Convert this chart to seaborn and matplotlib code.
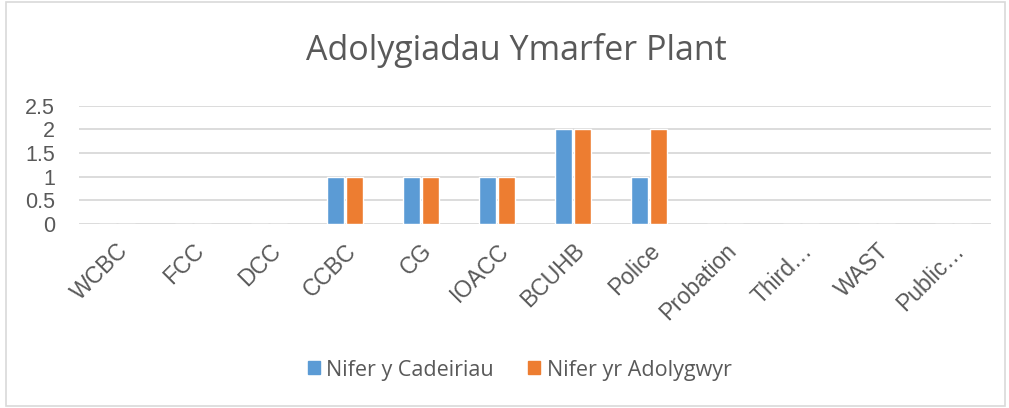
import numpy as np
import pandas as pd
import matplotlib.pyplot as plt
import seaborn as sns
from matplotlib.patches import Rectangle

categories = ["WCBC", "FCC", "DCC", "CCBC", "CG", "IOACC", "BCUHB", "Police",
              "Probation", "Third…", "WAST", "Public…"]
cadeiriau = [0, 0, 0, 1, 1, 1, 2, 1, 0, 0, 0, 0]
adolygwyr = [0, 0, 0, 1, 1, 1, 2, 2, 0, 0, 0, 0]
series_names = ["Nifer y Cadeiriau", "Nifer yr Adolygwyr"]

df = pd.DataFrame({
    "cat": categories * 2,
    "val": cadeiriau + adolygwyr,
    "series": [series_names[0]] * len(categories) + [series_names[1]] * len(categories),
})

sns.set_theme(style="white")
plt.rcParams['font.family'] = ['Liberation Sans', 'DejaVu Sans']
txt = "#595959"

fig = plt.figure(figsize=(10.09, 4.08), dpi=100)
ax = fig.add_axes([0.078, 0.451, 0.904, 0.29])

sns.barplot(data=df, x="cat", y="val", hue="series", order=categories,
            palette=["#5B9BD5", "#ED7D31"], width=0.5, gap=0.12,
            saturation=1, ax=ax, legend=False)

ax.set_ylim(0, 2.5)
ax.set_yticks([0, 0.5, 1, 1.5, 2, 2.5])
ax.set_yticklabels(["0", "0.5", "1", "1.5", "2", "2.5"])
ax.set_xlim(-0.5, len(categories) - 0.5)
ax.yaxis.grid(True, color="#D9D9D9", lw=1.3)
ax.set_axisbelow(True)
for s in ax.spines.values():
    s.set_visible(False)
ax.tick_params(axis="y", labelsize=15.5, colors=txt, length=0, pad=17)
ax.tick_params(axis="x", labelsize=16.5, colors=txt, length=0, pad=11)
plt.setp(ax.get_xticklabels(), rotation=45, ha="right", rotation_mode="anchor")
ax.set_xlabel("")
ax.set_ylabel("")

fig.text(0.512, 0.877, "Adolygiadau Ymarfer Plant", ha="center", va="center",
         fontsize=24.5, color=txt, family=["Open Sans", "DejaVu Sans"])

handles = [Rectangle((0, 0), 1, 1, color=c) for c in ["#5B9BD5", "#ED7D31"]]
fig.legend(handles, series_names, loc="center", bbox_to_anchor=(0.515, 0.093),
           ncol=2, frameon=False, handlelength=0.55, handleheight=0.55,
           columnspacing=1.6, handletextpad=0.3,
           prop={"family": ["Open Sans", "DejaVu Sans"], "size": 15.5},
           labelcolor=txt)

fig.add_artist(Rectangle((0.006, 0.004), 0.99, 0.99, transform=fig.transFigure,
                         fill=False, edgecolor="#D9D9D9", lw=1.2))

fig.savefig("out.png", dpi=100)
